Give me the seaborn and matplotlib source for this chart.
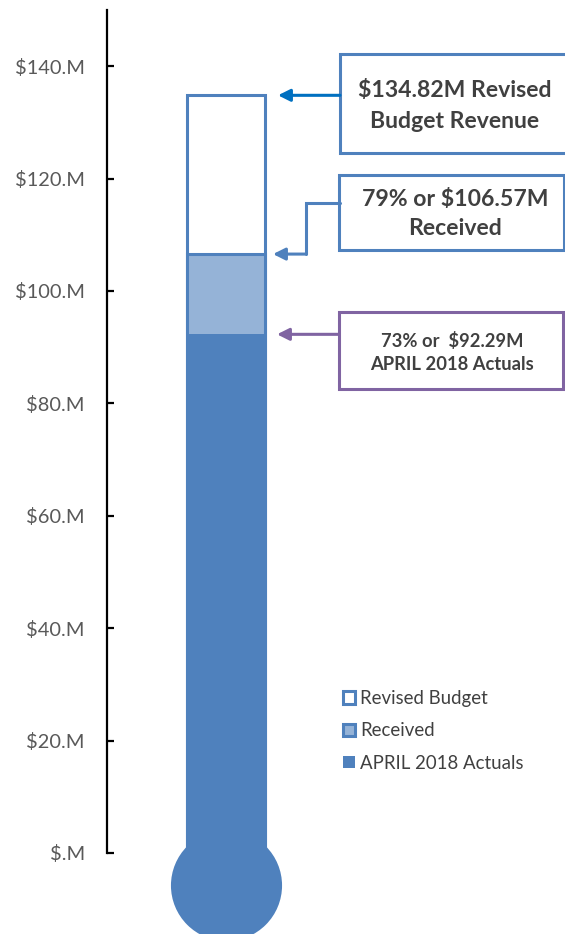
import matplotlib
matplotlib.use("Agg")
import matplotlib.pyplot as plt
import seaborn as sns
import pandas as pd
from matplotlib.patches import Rectangle

# ---- data ----
series = ["Revised Budget", "Received", "APRIL 2018 Actuals"]
values = [134.82, 106.57, 92.29]
fills = ["white", "#95B3D7", "#4F81BD"]
tick_values = [0, 20, 40, 60, 80, 100, 120, 140]
tick_labels = ["$.M", "$20.M", "$40.M", "$60.M", "$80.M", "$100.M", "$120.M", "$140.M"]
notes = ["$134.82M Revised\nBudget Revenue",
         "79% or $106.57M\nReceived",
         "73% or  $92.29M\nAPRIL 2018 Actuals"]

df = pd.DataFrame({"gauge": ["g"] * 3, "series": series, "value": values})

sns.set_style("white")
plt.rcParams["font.family"] = ["Lato", "DejaVu Sans"]

W, H = 565, 934
fig = plt.figure(figsize=(W / 100, H / 100), dpi=100)
# axes: spine at x=107px, top at y=10px, bottom at figure bottom
ax = fig.add_axes([107 / W, 0, 1 - 107 / W, 1 - 10 / H])

BLUE = "#4F81BD"
for s, fc in zip(series, fills):
    sub = df[df.series == s]
    sns.barplot(data=sub, x="gauge", y="value", color=fc, saturation=1,
                edgecolor=BLUE if s != series[2] else "none",
                linewidth=2.2 if s != series[2] else 0,
                width=0.8, label=s, ax=ax, zorder=2)

# axis scaling (px per unit: 5.62 vertical, 97.5 horizontal)
ax.set_ylim(-(934 - 853) / 5.62, 150)
ax.set_xlim(-(225.5 - 107) / 97.5, (565 - 225.5) / 97.5)

# bulb
ax.plot([0], [-(885 - 853) / 5.62], marker="o", markersize=80,
        color=BLUE, markeredgewidth=0, zorder=3, clip_on=False)

for sp in ["top", "right", "bottom"]:
    ax.spines[sp].set_visible(False)
ax.spines["left"].set_bounds(0, 150)
ax.spines["left"].set_color("black")
ax.spines["left"].set_linewidth(1.6)
ax.set_yticks(tick_values)
ax.set_yticklabels(tick_labels)
ax.tick_params(axis="y", direction="in", length=5, width=1.6, color="black",
               labelsize=14.4, labelcolor="#595959", pad=16, left=True)
ax.set_xticks([])
ax.set_xlabel("")
ax.set_ylabel("")

# helpers: pixel (from top-left) -> data
def px(x, y):
    return ax.transData.inverted().transform((x, H - y))

TXT = "#404040"

def box(x0, y0, x1, y1, color, text, cx, cy, size, ls):
    (dx0, dy1) = px(x0, y1)
    (dx1, dy0) = px(x1, y0)
    ax.add_patch(Rectangle((dx0, dy1), dx1 - dx0, dy0 - dy1, facecolor="white",
                           edgecolor=color, linewidth=2.2, clip_on=False, zorder=4))
    tx, ty = px(cx, cy)
    ax.text(tx, ty, text, ha="center", va="center", fontsize=size,
            fontweight="bold", color=TXT, linespacing=ls, zorder=5)

# box 1: revised budget
box(340, 54, 572, 153, BLUE, notes[0], 455, 106, 16.6, 1.58)
x_s, _ = px(340, 0)
x_e, _ = px(278, 0)
ax.annotate("", xy=(x_e, values[0]), xytext=(x_s, values[0]),
            arrowprops=dict(arrowstyle="-|>", color="#0070C0", lw=2.2,
                            mutation_scale=18, shrinkA=0, shrinkB=0), zorder=5)

# box 2: received, elbow connector
box(339, 175, 564, 250, BLUE, notes[1], 455, 214, 16.6, 1.5)
xa, ya = px(340, 203)
xb, _ = px(306, 203)
xc, _ = px(273, 0)
ax.plot([xa, xb, xb], [ya, ya, values[1]], color=BLUE, lw=2.2, zorder=5,
        solid_joinstyle="miter")
ax.annotate("", xy=(xc, values[1]), xytext=(xb, values[1]),
            arrowprops=dict(arrowstyle="-|>", color=BLUE, lw=2.2,
                            mutation_scale=18, shrinkA=0, shrinkB=0), zorder=5)

# box 3: actuals
PURPLE = "#8064A2"
box(339, 312, 563, 389, PURPLE, notes[2], 452, 352.5, 13.2, 1.45)
x_s3, _ = px(339, 0)
x_e3, _ = px(277, 0)
ax.annotate("", xy=(x_e3, values[2]), xytext=(x_s3, values[2]),
            arrowprops=dict(arrowstyle="-|>", color=PURPLE, lw=2.2,
                            mutation_scale=18, shrinkA=0, shrinkB=0), zorder=5)

# legend
leg = ax.legend(loc="upper left", bbox_to_anchor=(343 / W, 1 - 690 / H),
                bbox_transform=fig.transFigure, frameon=False, fontsize=13.4,
                handlelength=0.65, handleheight=0.65, handletextpad=0.25,
                labelspacing=0.82, borderpad=0, borderaxespad=0)
for t in leg.get_texts():
    t.set_color(TXT)

fig.savefig("out.png", dpi=100)
